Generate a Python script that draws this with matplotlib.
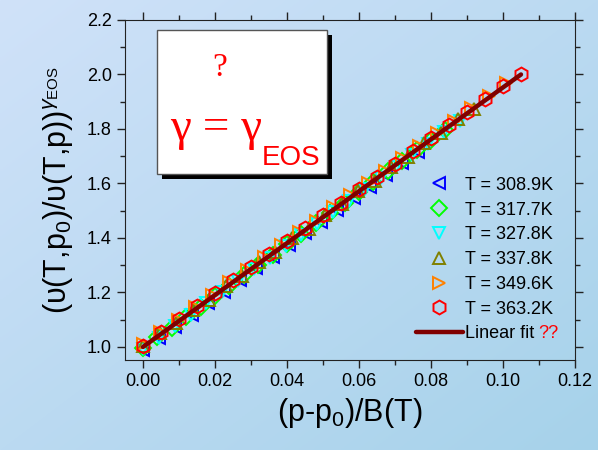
import numpy as np
import matplotlib
matplotlib.use("Agg")
import matplotlib.pyplot as plt
from matplotlib.patches import Rectangle

plt.rcParams['font.family'] = ['Liberation Sans', 'DejaVu Sans']
plt.rcParams['mathtext.fontset'] = 'custom'
plt.rcParams['mathtext.rm'] = 'Liberation Sans'
plt.rcParams['mathtext.it'] = 'Liberation Sans:italic'

temps = ["308.9K", "317.7K", "327.8K", "337.8K", "349.6K", "363.2K"]

x_309 = [0, 0.0045, 0.009, 0.0135, 0.018, 0.0225, 0.027, 0.0315, 0.036, 0.0405,
         0.045, 0.0495, 0.054, 0.0585, 0.063, 0.0675, 0.072, 0.0765]
y_309 = [0.988, 1.031, 1.073, 1.117, 1.160, 1.202, 1.245, 1.289, 1.331, 1.374,
         1.417, 1.460, 1.503, 1.545, 1.588, 1.631, 1.674, 1.717]

x_318 = [0, 0.004, 0.008, 0.012, 0.016, 0.02, 0.024, 0.028, 0.032, 0.036, 0.04,
         0.044, 0.048, 0.052, 0.056, 0.06, 0.064, 0.068, 0.072, 0.076, 0.08, 0.084]
y_318 = [0.996, 1.035, 1.071, 1.111, 1.148, 1.187, 1.224, 1.263, 1.302, 1.338, 1.378,
         1.415, 1.454, 1.490, 1.530, 1.567, 1.606, 1.644, 1.681, 1.721, 1.758, 1.797]

x_328 = [0, 0.0044, 0.0088, 0.0132, 0.0176, 0.022, 0.0264, 0.0308, 0.0352, 0.0396,
         0.044, 0.0484, 0.0528, 0.0572, 0.0616, 0.066, 0.0704, 0.0748, 0.0792, 0.0836, 0.088]
y_328 = [0.992, 1.034, 1.076, 1.118, 1.160, 1.202, 1.243, 1.286, 1.327, 1.369,
         1.411, 1.453, 1.495, 1.537, 1.579, 1.621, 1.662, 1.704, 1.746, 1.788, 1.830]

x_338 = [0, 0.0046, 0.0092, 0.0138, 0.0184, 0.023, 0.0276, 0.0322, 0.0368, 0.0414,
         0.046, 0.0506, 0.0552, 0.0598, 0.0644, 0.069, 0.0736, 0.0782, 0.0828, 0.0874, 0.092]
y_338 = [1.004, 1.050, 1.086, 1.135, 1.172, 1.224, 1.260, 1.311, 1.347, 1.398,
         1.434, 1.486, 1.523, 1.574, 1.610, 1.661, 1.698, 1.749, 1.786, 1.836, 1.873]

x_350 = [0, 0.0048, 0.0096, 0.0144, 0.0192, 0.024, 0.0288, 0.0336, 0.0384, 0.0432, 0.048,
         0.0528, 0.0576, 0.0624, 0.0672, 0.072, 0.0768, 0.0816, 0.0864, 0.0912, 0.096, 0.1008]
y_350 = [1.010, 1.055, 1.099, 1.146, 1.190, 1.238, 1.282, 1.329, 1.373, 1.420, 1.464,
         1.512, 1.556, 1.603, 1.647, 1.695, 1.739, 1.786, 1.830, 1.878, 1.921, 1.968]

x_363 = [0, 0.005, 0.01, 0.015, 0.02, 0.025, 0.03, 0.035, 0.04, 0.045, 0.05,
         0.055, 0.06, 0.065, 0.07, 0.075, 0.08, 0.085, 0.09, 0.095, 0.1, 0.105]
y_363 = [1.003, 1.054, 1.101, 1.149, 1.197, 1.244, 1.292, 1.340, 1.387, 1.435, 1.483,
         1.530, 1.578, 1.625, 1.673, 1.720, 1.768, 1.816, 1.863, 1.911, 1.958, 2.000]

fit_x = [0.0, 0.105]
fit_y = [1.0, 2.0]

xs = [x_309, x_318, x_328, x_338, x_350, x_363]
ys = [y_309, y_318, y_328, y_338, y_350, y_363]
markers = ['<', 'D', 'v', '^', '>', 'h']
colors = ['#0000ff', '#00ff00', '#00ffff', '#808000', '#ff8000', '#ff0000']
sizes = [9, 8, 9, 9, 9, 10]

fig = plt.figure(figsize=(5.98, 4.5), dpi=100)

# soft blue gradient behind everything
bg = fig.add_axes([0, 0, 1, 1], zorder=-10)
gx, gy = np.meshgrid(np.linspace(0, 1, 200), np.linspace(0, 1, 200))
t = (gx + gy) / 2
c0 = np.array([208, 226, 249]) / 255
c1 = np.array([166, 210, 234]) / 255
img = c0[None, None, :] * (1 - t[..., None]) + c1[None, None, :] * t[..., None]
bg.imshow(img, aspect='auto', extent=[0, 1, 0, 1], origin='upper')
bg.axis('off')

ax = fig.add_axes([0.209, 0.2, 0.7525, 0.7556])
ax.patch.set_alpha(0)

for x, y, m, c, s, T in zip(xs, ys, markers, colors, sizes, temps):
    ax.plot(x, y, linestyle='none', marker=m, markersize=s, markerfacecolor='none',
            markeredgecolor=c, markeredgewidth=1.4, label=f"T = {T}")
ax.plot(fit_x, fit_y, color='#800000', linewidth=3.2, label='Linear fit',
        solid_capstyle='round')

ax.set_xlim(-0.005, 0.12)
ax.set_ylim(0.952, 2.2)
ax.set_xticks(np.arange(0, 0.121, 0.02))
ax.set_xticks(np.arange(0.01, 0.12, 0.02), minor=True)
ax.set_yticks(np.arange(1.0, 2.21, 0.2))
ax.set_yticks(np.arange(1.1, 2.2, 0.2), minor=True)
ax.xaxis.set_major_formatter(matplotlib.ticker.FormatStrFormatter('%.2f'))
ax.yaxis.set_major_formatter(matplotlib.ticker.FormatStrFormatter('%.1f'))
ax.tick_params(which='both', direction='out', top=True, right=True,
               labeltop=False, labelright=False, labelsize=13, color='#222222')
ax.tick_params(which='major', length=6, width=1)
ax.tick_params(which='minor', length=3.5, width=1)
for sp in ax.spines.values():
    sp.set_color('#222222')

ax.set_xlabel(r'(p-p$_0$)/B(T)', fontsize=22, labelpad=4)
ax.set_ylabel(r'(υ(T,p$_0$)/υ(T,p))$^{\gamma_{\rm EOS}}$', fontsize=22, labelpad=8)

leg = ax.legend(loc='lower right', bbox_to_anchor=(0.975, 0.02), frameon=False,
                fontsize=13, handlelength=2.6, handletextpad=0.1,
                labelspacing=0.43, borderaxespad=0.2)

# boxed note with shadow
px = lambda x0, y0: (x0 / 598, 1 - y0 / 450)
sx, sy = px(162, 179)
fig.patches.append(Rectangle((sx, sy), 170 / 598, 144 / 450, transform=fig.transFigure,
                             facecolor='black', edgecolor='none', zorder=5))
bx, by = px(157, 174)
fig.patches.append(Rectangle((bx, by), 170 / 598, 144 / 450, transform=fig.transFigure,
                             facecolor='white', edgecolor='#555555', linewidth=1, zorder=6))

qx, qy = px(220, 68)
fig.text(qx, qy, '?', family='Liberation Serif', fontsize=24, color='red',
         ha='center', va='center', zorder=7)
gx0, gy0 = px(170, 140)
g_txt = fig.text(gx0, gy0, 'γ = γ', family='Liberation Serif', fontsize=34,
                 color='red', ha='left', va='baseline', zorder=7)

# place the subscript and the red marks once the text extents are known
fig.canvas.draw()
inv = fig.transFigure.inverted()
gb = g_txt.get_window_extent()
ex, ey = inv.transform((gb.x1, gb.y0))
fig.text(ex, ey + 0.012, 'EOS', fontsize=20, color='red', ha='left', va='top', zorder=7)

fb = leg.get_texts()[-1].get_window_extent()
qx2, qy2 = inv.transform((fb.x1 + 4, fb.y0))
fig.text(qx2, qy2, '??', fontsize=13, color='red', ha='left', va='bottom', zorder=7)

fig.savefig('out.png', dpi=100)
